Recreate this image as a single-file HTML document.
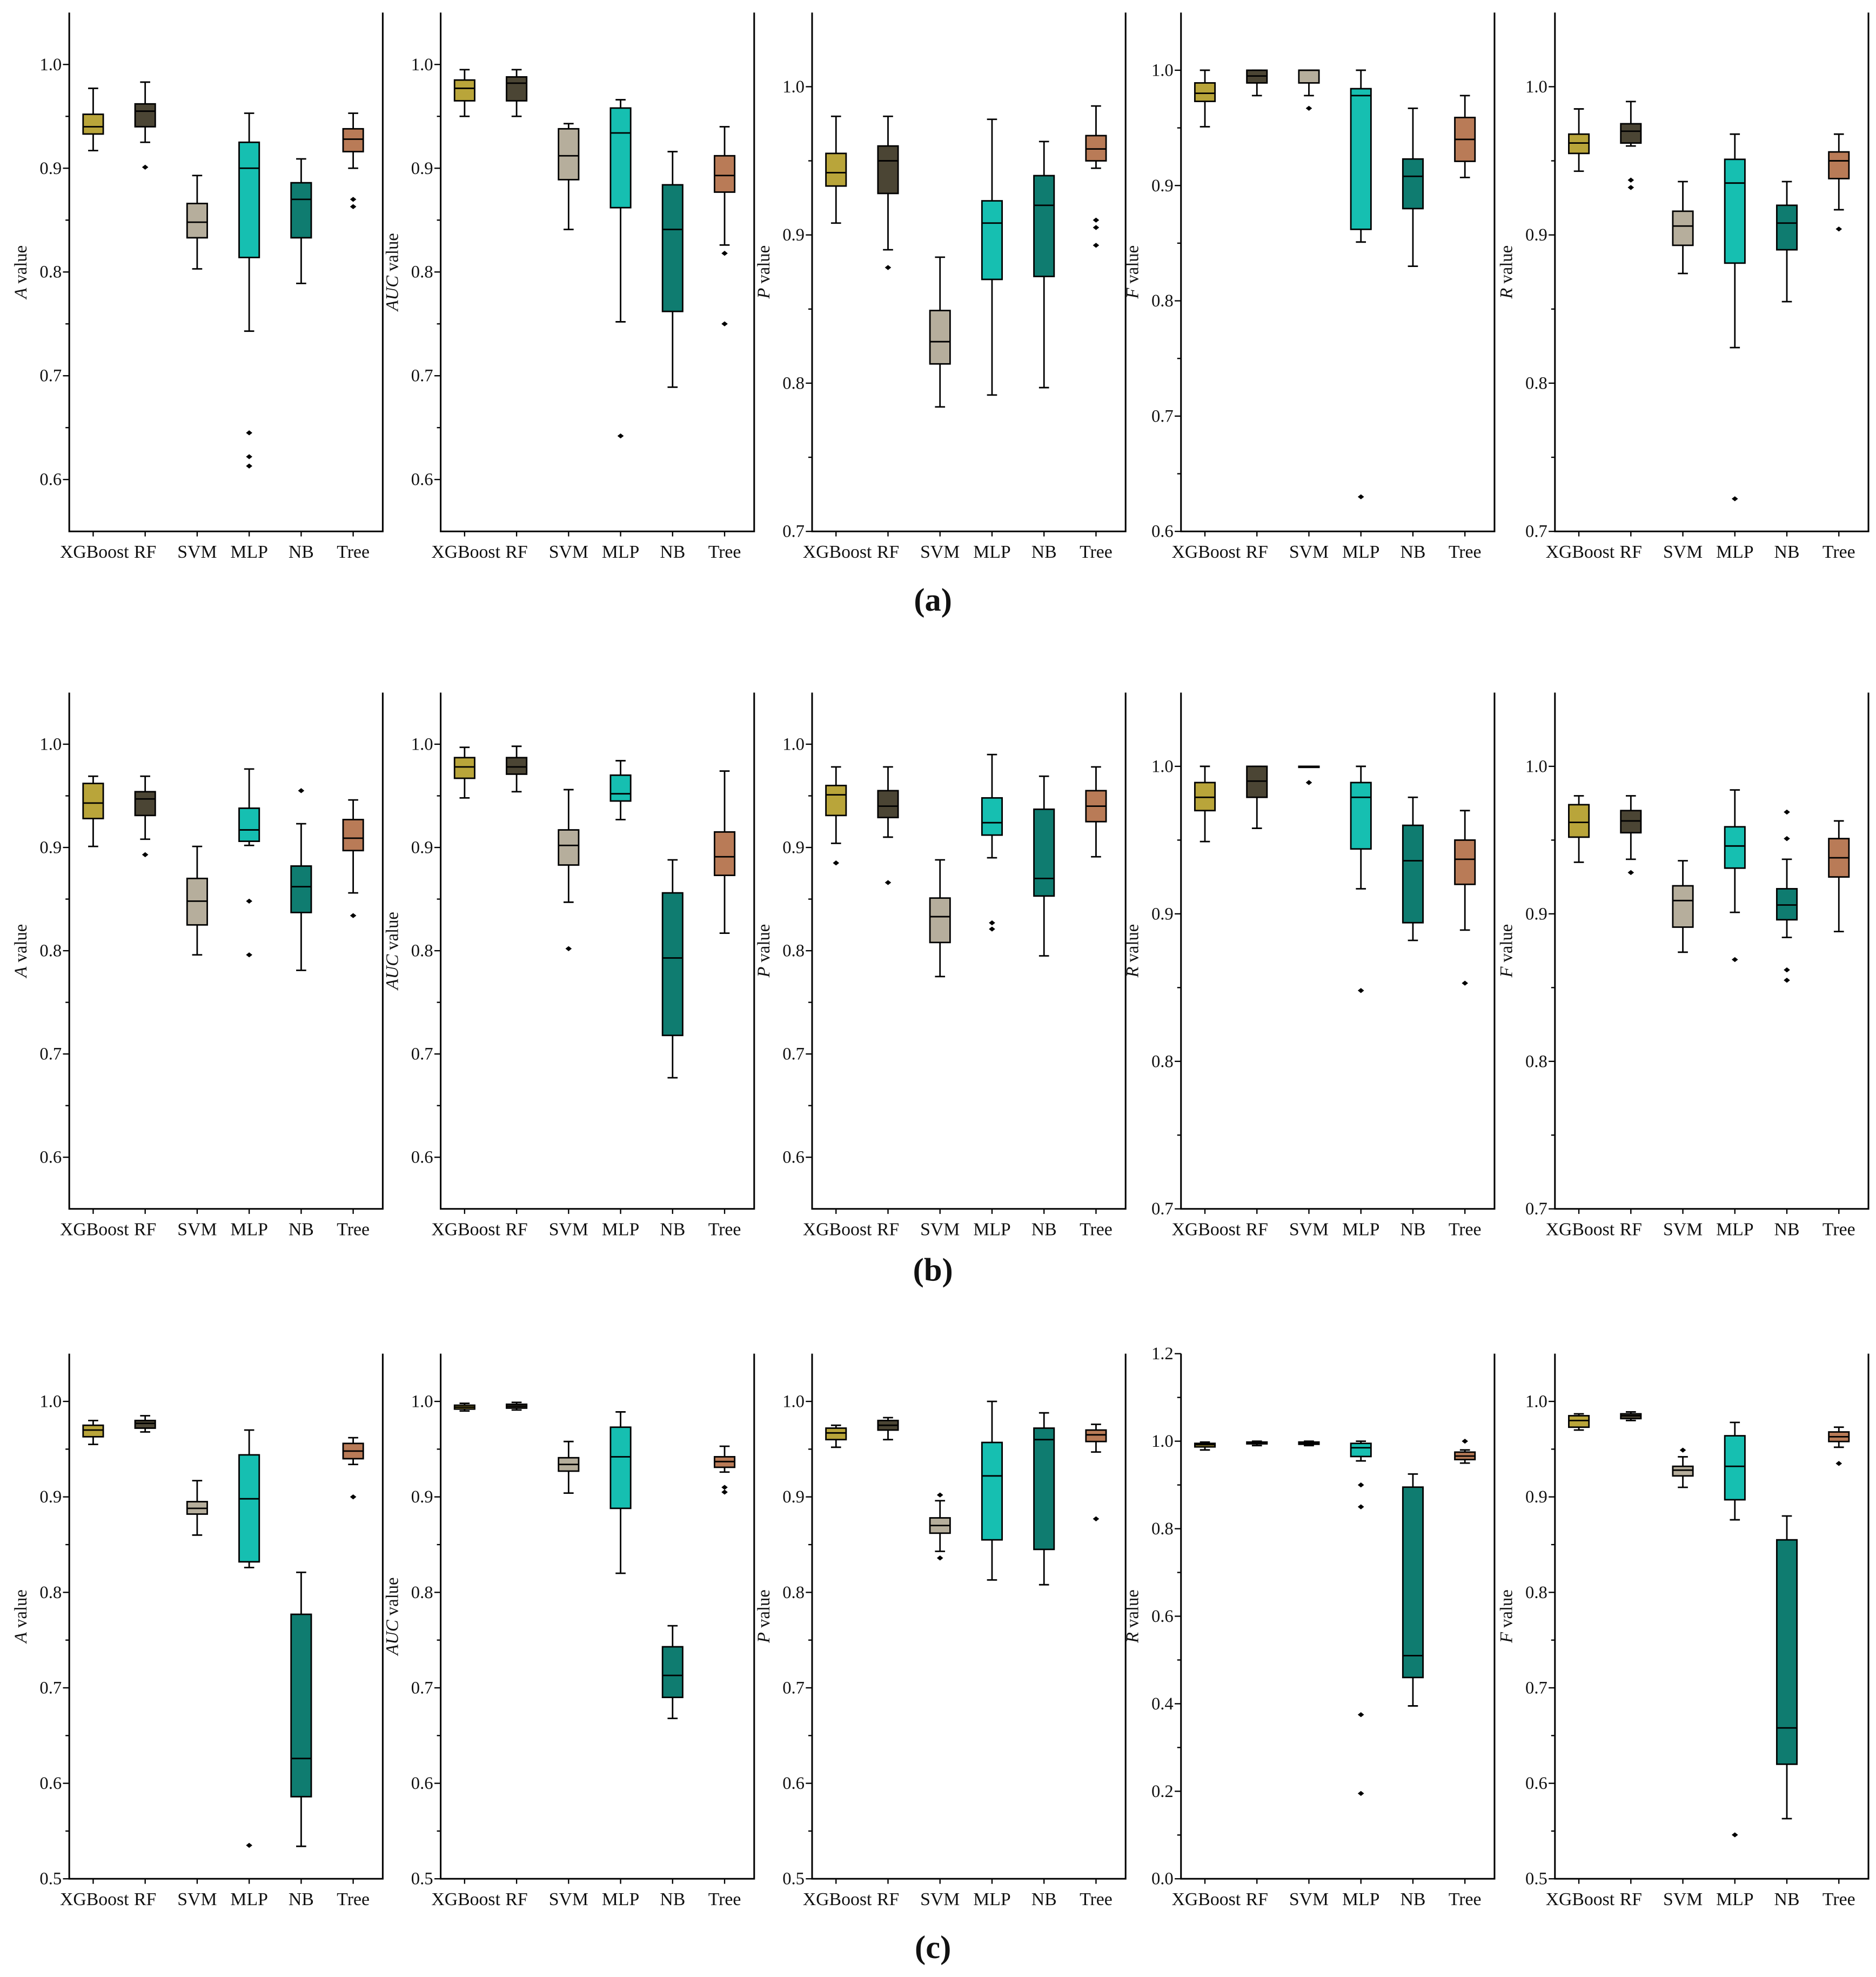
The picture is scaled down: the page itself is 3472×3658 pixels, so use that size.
<!DOCTYPE html>
<html><head><meta charset="utf-8"><style>
html,body{margin:0;padding:0;background:#fff;}
svg{display:block;}
text{font-family:"Liberation Serif",serif;fill:#111;}
</style></head><body>
<svg id="chart" width="3472" height="3658" viewBox="0 0 1490 1570" preserveAspectRatio="none" xmlns="http://www.w3.org/2000/svg"></svg>
<script>
const categories=["XGBoost","RF","SVM","MLP","NB","Tree"];
const colors=["#b9a53a","#4b4534","#b6ae9c","#16bfb1","#0f7c70","#b97b57"];
const rowLetters=["(a)","(b)","(c)"];
const rowLabels=[["A","AUC","P","F","R"],["A","AUC","P","R","F"],["A","AUC","P","R","F"]];
const rowDomains=[[[0.55,1.05],[0.55,1.05],[0.7,1.05],[0.6,1.05],[0.7,1.05]],
 [[0.55,1.05],[0.55,1.05],[0.55,1.05],[0.7,1.05],[0.7,1.05]],
 [[0.5,1.05],[0.5,1.05],[0.5,1.05],[0,1.2],[0.5,1.05]]];
const rowTicks=[[[0.6,0.7,0.8,0.9,1.0],[0.6,0.7,0.8,0.9,1.0],[0.7,0.8,0.9,1.0],[0.6,0.7,0.8,0.9,1.0],[0.7,0.8,0.9,1.0]],
 [[0.6,0.7,0.8,0.9,1.0],[0.6,0.7,0.8,0.9,1.0],[0.6,0.7,0.8,0.9,1.0],[0.7,0.8,0.9,1.0],[0.7,0.8,0.9,1.0]],
 [[0.5,0.6,0.7,0.8,0.9,1.0],[0.5,0.6,0.7,0.8,0.9,1.0],[0.5,0.6,0.7,0.8,0.9,1.0],[0,0.2,0.4,0.6,0.8,1.0,1.2],[0.5,0.6,0.7,0.8,0.9,1.0]]];
// [whiskerLow, q1, median, q3, whiskerHigh, [outliers]]
const rowA=[
 [[0.917,0.933,0.940,0.952,0.977,[]],[0.925,0.940,0.955,0.962,0.983,[0.901]],[0.803,0.833,0.848,0.866,0.893,[]],[0.743,0.814,0.900,0.925,0.953,[0.645,0.622,0.613]],[0.789,0.833,0.870,0.886,0.909,[]],[0.900,0.916,0.928,0.938,0.953,[0.870,0.863]]],
 [[0.950,0.965,0.977,0.985,0.995,[]],[0.950,0.965,0.982,0.988,0.995,[]],[0.841,0.889,0.912,0.938,0.943,[]],[0.752,0.862,0.934,0.958,0.966,[0.642]],[0.689,0.762,0.841,0.884,0.916,[]],[0.826,0.877,0.893,0.912,0.940,[0.818,0.750]]],
 [[0.908,0.933,0.942,0.955,0.980,[]],[0.890,0.928,0.950,0.960,0.980,[0.878]],[0.784,0.813,0.828,0.849,0.885,[]],[0.792,0.870,0.908,0.923,0.978,[]],[0.797,0.872,0.920,0.940,0.963,[]],[0.945,0.950,0.958,0.967,0.987,[0.910,0.905,0.893]]],
 [[0.951,0.973,0.980,0.989,1.0,[]],[0.978,0.989,0.995,1.0,1.0,[]],[0.978,0.989,1.0,1.0,1.0,[0.967]],[0.851,0.862,0.978,0.984,1.0,[0.630]],[0.830,0.880,0.908,0.923,0.967,[]],[0.907,0.921,0.940,0.959,0.978,[]]],
 [[0.943,0.955,0.962,0.968,0.985,[]],[0.960,0.962,0.970,0.975,0.990,[0.937,0.932]],[0.874,0.893,0.906,0.916,0.936,[]],[0.824,0.881,0.935,0.951,0.968,[0.722]],[0.855,0.890,0.908,0.920,0.936,[]],[0.917,0.938,0.950,0.956,0.968,[0.904]]]];
const rowB=[
 [[0.901,0.928,0.943,0.962,0.969,[]],[0.908,0.931,0.947,0.954,0.969,[0.893]],[0.796,0.825,0.848,0.870,0.901,[]],[0.902,0.906,0.917,0.938,0.976,[0.848,0.796]],[0.781,0.837,0.862,0.882,0.923,[0.955]],[0.856,0.897,0.909,0.927,0.946,[0.834]]],
 [[0.948,0.967,0.978,0.987,0.997,[]],[0.954,0.971,0.978,0.987,0.998,[]],[0.847,0.883,0.902,0.917,0.956,[0.802]],[0.927,0.945,0.952,0.970,0.984,[]],[0.677,0.718,0.793,0.856,0.888,[]],[0.817,0.873,0.891,0.915,0.974,[]]],
 [[0.904,0.931,0.951,0.960,0.978,[0.885]],[0.910,0.929,0.940,0.955,0.978,[0.866]],[0.775,0.808,0.833,0.851,0.888,[]],[0.890,0.912,0.924,0.948,0.990,[0.827,0.821]],[0.795,0.853,0.870,0.937,0.969,[]],[0.891,0.925,0.940,0.955,0.978,[]]],
 [[0.949,0.970,0.979,0.989,1.0,[]],[0.958,0.979,0.990,1.0,1.0,[]],[1.0,1.0,1.0,1.0,1.0,[0.989]],[0.917,0.944,0.979,0.989,1.0,[0.848]],[0.882,0.894,0.936,0.960,0.979,[]],[0.889,0.920,0.937,0.950,0.970,[0.853]]],
 [[0.935,0.952,0.962,0.974,0.980,[]],[0.937,0.955,0.963,0.970,0.980,[0.928]],[0.874,0.891,0.909,0.919,0.936,[]],[0.901,0.931,0.946,0.959,0.984,[0.869]],[0.884,0.896,0.906,0.917,0.937,[0.969,0.951,0.862,0.855]],[0.888,0.925,0.938,0.951,0.963,[]]]];
const rowC=[
 [[0.955,0.963,0.970,0.975,0.980,[]],[0.968,0.972,0.977,0.980,0.985,[]],[0.860,0.882,0.888,0.895,0.917,[]],[0.826,0.832,0.898,0.944,0.970,[0.535]],[0.534,0.586,0.626,0.777,0.821,[]],[0.934,0.940,0.948,0.956,0.962,[0.900]]],
 [[0.990,0.992,0.994,0.996,0.998,[]],[0.991,0.993,0.995,0.997,0.999,[]],[0.904,0.927,0.934,0.941,0.958,[]],[0.820,0.888,0.942,0.973,0.989,[]],[0.668,0.690,0.713,0.743,0.765,[]],[0.926,0.931,0.937,0.942,0.953,[0.910,0.905]]],
 [[0.952,0.960,0.967,0.972,0.975,[]],[0.960,0.970,0.975,0.980,0.983,[]],[0.843,0.862,0.870,0.878,0.896,[0.902,0.836]],[0.813,0.855,0.922,0.957,1.0,[]],[0.808,0.845,0.960,0.972,0.988,[]],[0.947,0.958,0.965,0.970,0.976,[0.877]]],
 [[0.980,0.987,0.992,0.995,0.998,[]],[0.990,0.994,0.996,0.998,1.0,[]],[0.990,0.993,0.996,0.998,1.0,[]],[0.955,0.965,0.985,0.995,1.0,[0.900,0.850,0.375,0.195]],[0.395,0.460,0.510,0.895,0.925,[]],[0.950,0.958,0.966,0.975,0.980,[1.0]]],
 [[0.970,0.973,0.980,0.985,0.987,[]],[0.980,0.982,0.985,0.987,0.989,[]],[0.910,0.922,0.928,0.932,0.942,[0.949]],[0.876,0.897,0.932,0.964,0.978,[0.546]],[0.563,0.620,0.658,0.855,0.880,[]],[0.952,0.958,0.963,0.968,0.973,[0.935]]]];
const rowData=[rowA,rowB,rowC];

const NS="http://www.w3.org/2000/svg";
const svg=document.getElementById("chart");
const panelLefts=[55,350,645,938,1235];
const panelW=249;
const rowTops=[10,550,1075];
const rowBottoms=[422,960,1492];
const captionY=[485,1017,1555];
function mk(tag,attrs,parent){const e=document.createElementNS(NS,tag);for(const k in attrs)e.setAttribute(k,attrs[k]);(parent||svg).appendChild(e);return e;}

rowData.forEach((row,r)=>{
  const top=rowTops[r],bot=rowBottoms[r];
  row.forEach((panel,p)=>{
    const g=mk("g",{});
    
    
    const L=panelLefts[p],R=L+panelW;
    const [d0,d1]=rowDomains[r][p];
    const y=v=>bot-(v-d0)/(d1-d0)*(bot-top);
    const x=i=>L+19+i*41.3;
    const ax=mk("path",{d:`M${L},${top}V${bot}H${R}V${top}`,fill:"none",stroke:"#000","stroke-width":1.3},g);
    
    
    const ticks=rowTicks[r][p];
    const step=ticks[1]-ticks[0];
    for(let k=0;k<ticks.length;k++){
      const mv=ticks[k]+step/2;
      if(mv<d1) mk("line",{x1:L-3,x2:L,y1:y(mv),y2:y(mv),stroke:"#000","stroke-width":1},g);
    }
    ticks.forEach(t=>{
      mk("line",{x1:L-5,x2:L,y1:y(t),y2:y(t),stroke:"#000","stroke-width":1},g);
      const tl=mk("text",{x:L-6,y:y(t)+4.5,"text-anchor":"end","font-size":14},g);
      tl.textContent=t.toFixed(1);
      
      
    });
    const yt=mk("text",{transform:`translate(${L-34},${(top+bot)/2}) rotate(-90)`,"text-anchor":"middle","font-size":14},g);
    
    
    const it=mk("tspan",{"font-style":"italic"},yt);it.textContent=rowLabels[r][p];
    const rest=mk("tspan",{},yt);rest.textContent=" value";
    categories.forEach((c,i)=>{
      const cx=x(i);
      mk("line",{x1:cx,x2:cx,y1:bot,y2:bot+4,stroke:"#000","stroke-width":1},g);
      const cl=mk("text",{x:cx+(i===0?1:0),y:bot+21,"text-anchor":"middle","font-size":14.5},g);
      cl.textContent=c;
      
      
      const [w0,q1,md,q3,w1,outs]=panel[i];
      const bg=mk("g",{},g);
      
      
      const hw=8;
      mk("line",{x1:cx,x2:cx,y1:y(w1),y2:y(q3),stroke:"#000","stroke-width":1.2},bg);
      mk("line",{x1:cx,x2:cx,y1:y(q1),y2:y(w0),stroke:"#000","stroke-width":1.2},bg);
      mk("line",{x1:cx-4,x2:cx+4,y1:y(w1),y2:y(w1),stroke:"#000","stroke-width":1.2},bg);
      mk("line",{x1:cx-4,x2:cx+4,y1:y(w0),y2:y(w0),stroke:"#000","stroke-width":1.2},bg);
      mk("rect",{x:cx-hw,y:y(q3),width:2*hw,height:Math.max(y(q1)-y(q3),0.8),fill:colors[i],stroke:"#000","stroke-width":1.2},bg);
      mk("line",{x1:cx-hw,x2:cx+hw,y1:y(md),y2:y(md),stroke:"#000","stroke-width":1.2},bg);
      outs.forEach(o=>{
        const d=mk("path",{d:`M${cx-2.5},${y(o)}L${cx},${y(o)-2}L${cx+2.5},${y(o)}L${cx},${y(o)+2}Z`,fill:"#000"},bg);
        
        
      });
    });
  });
  const cap=mk("text",{x:741,y:captionY[r],"text-anchor":"middle","font-size":26,"font-weight":"bold"});
  cap.textContent=rowLetters[r];
  
  
});
</script>
</body></html>
